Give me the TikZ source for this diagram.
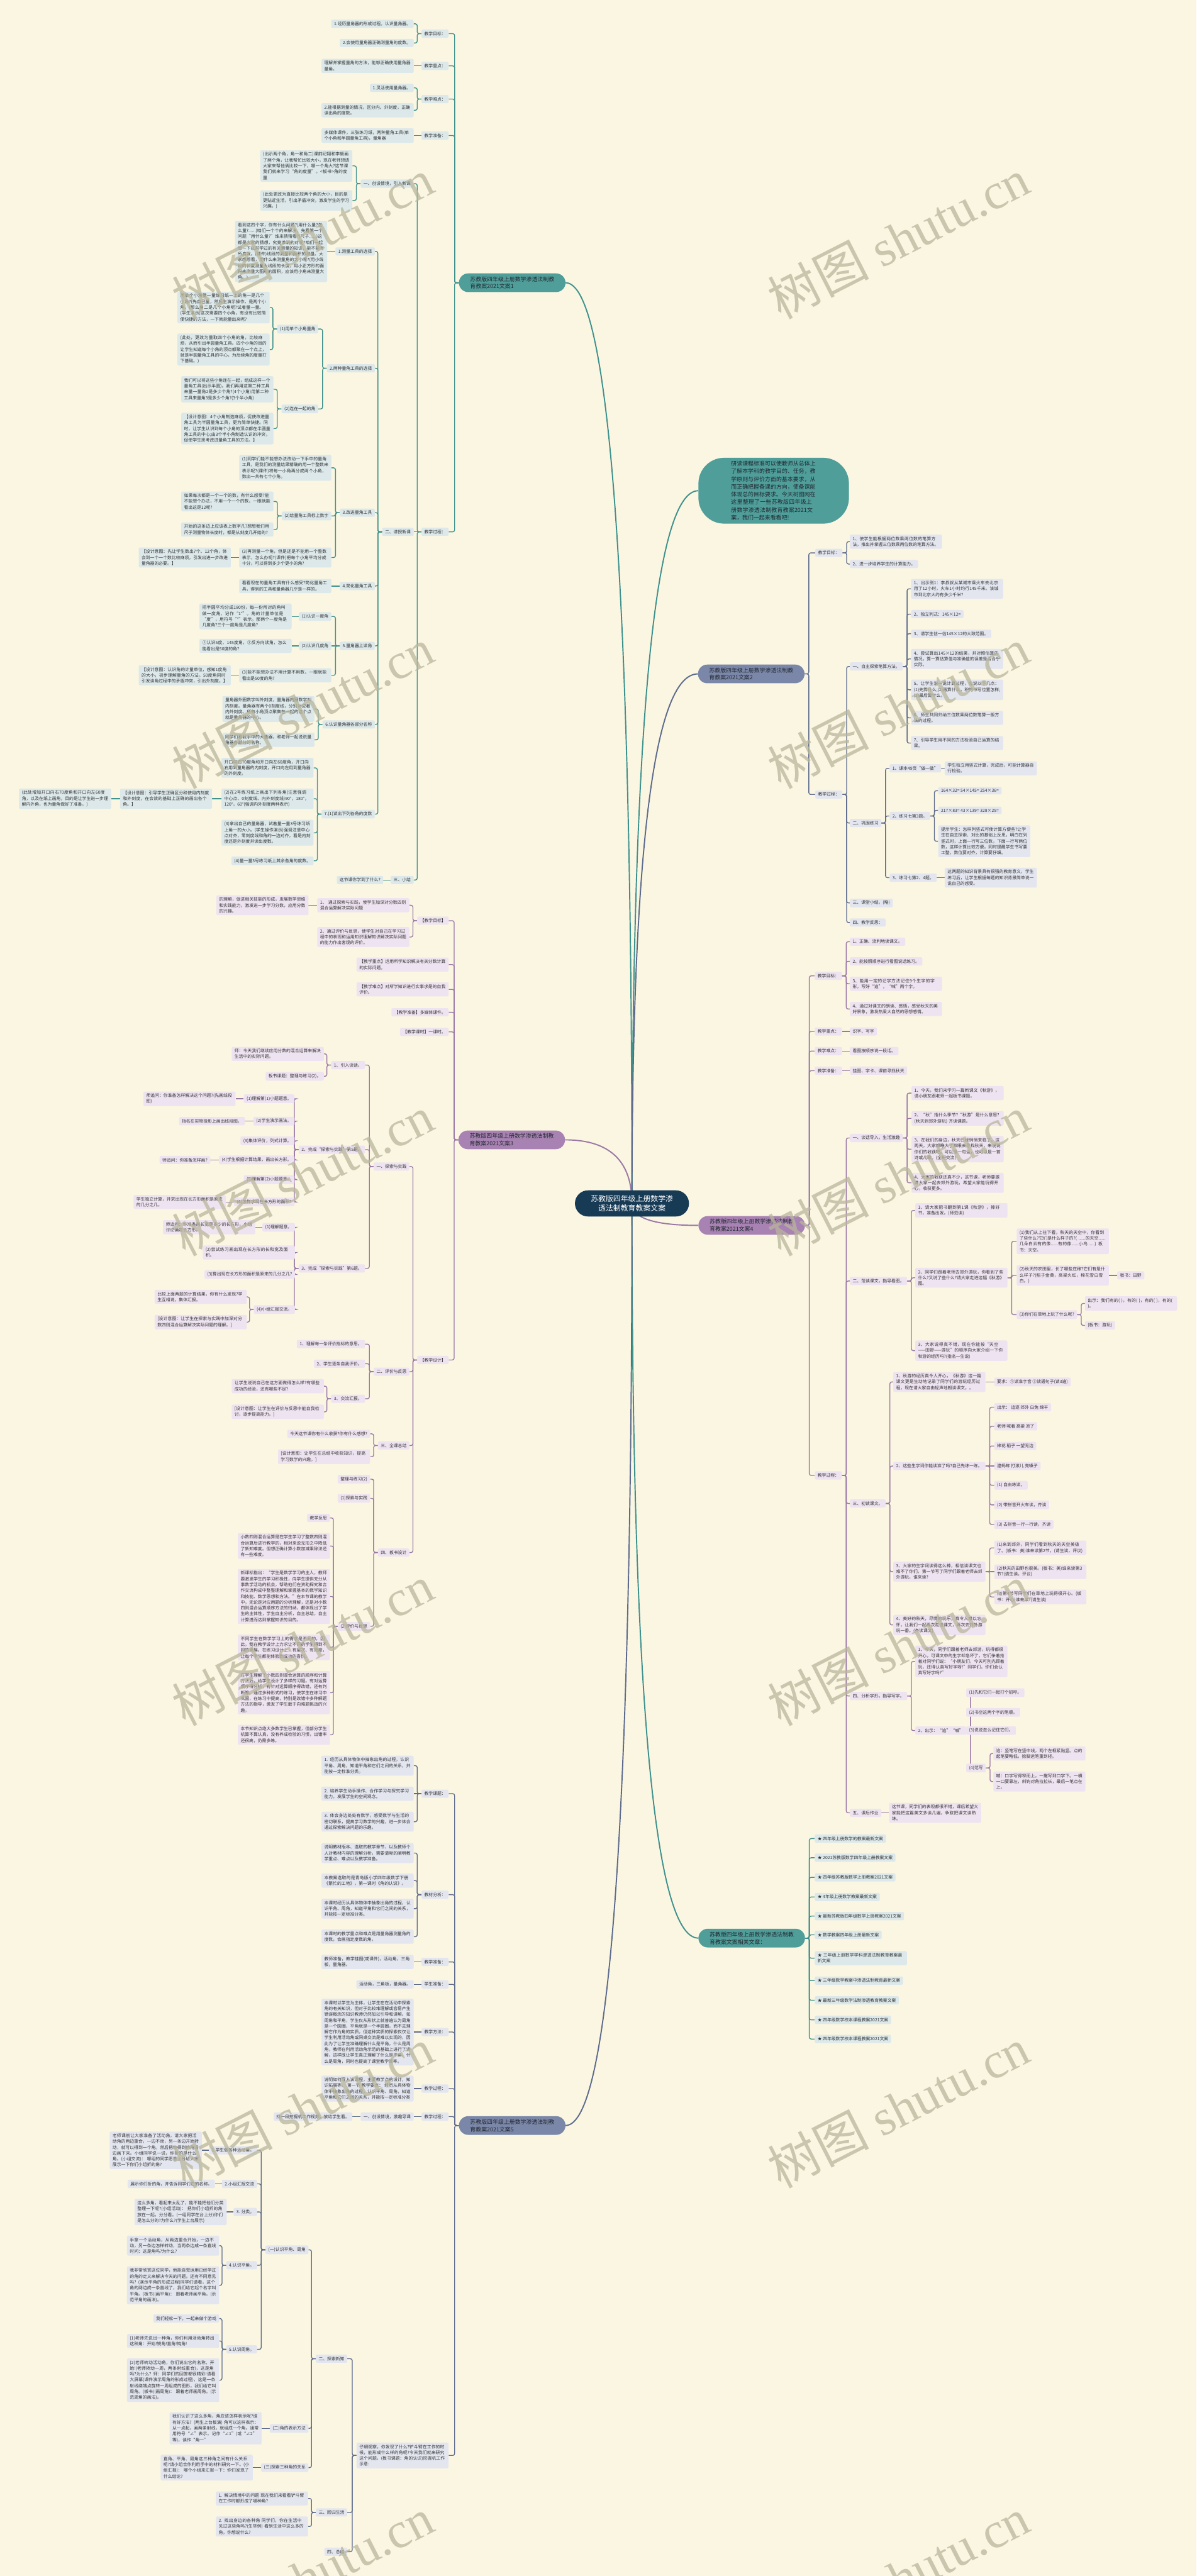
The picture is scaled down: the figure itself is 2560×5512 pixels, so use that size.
\documentclass[tikz,border=0pt]{standalone}
\usepackage{fontspec}
\setmainfont{Noto Sans CJK SC}
\newfontfamily\wmserif{Liberation Serif}
\usetikzlibrary{calc}
\XeTeXlinebreaklocale "zh"
\XeTeXlinebreakskip = 0pt plus 1pt
\definecolor{bgc}{HTML}{FAF6E2}
\definecolor{navy}{HTML}{173A55}
\definecolor{cT}{HTML}{4F9E9A}
\definecolor{cS}{HTML}{7B87A8}
\definecolor{cP}{HTML}{A882B2}
\definecolor{fT}{HTML}{DCE8EA}
\definecolor{fS}{HTML}{E3E6EF}
\definecolor{fP}{HTML}{EEE3F0}
\definecolor{lT}{HTML}{3F918D}
\definecolor{lS}{HTML}{5E6B8C}
\definecolor{lP}{HTML}{9A78A5}
\definecolor{txt}{HTML}{333333}
\definecolor{txt2}{HTML}{222831}
\definecolor{wmc}{HTML}{B9B69C}
\pgfdeclarelayer{back}\pgfdeclarelayer{bg}\pgfdeclarelayer{top}
\pgfsetlayers{back,bg,main,top}
\tikzset{
 nbase/.style={rounded corners=3pt, inner xsep=6pt, inner ysep=4.5pt, font=\fontsize{9.2}{12.5}\selectfont, text=txt, align=left},
 tl/.style={nbase, fill=fT},
 sl/.style={nbase, fill=fS},
 pl/.style={nbase, fill=fP},
 ww/.style={text width=185pt},
 ae/.style={anchor=east},
 aw/.style={anchor=west},
 br/.style={rounded corners=20pt, inner xsep=24pt, inner ysep=5pt, font=\fontsize{12}{16}\selectfont, text=txt2, align=left, minimum height=40pt},
 ln/.style={line width=1.8pt, rounded corners=4pt},
 wm/.style={rotate=27, text=wmc, opacity=0.75, font=\fontsize{108}{108}\selectfont, inner sep=0pt},
}
\newcommand\fanL[3]{\foreach \kid in {#3}{\draw[ln,#1] (#2.west) -- ++(-9,0) |- (\kid.east);}}
\newcommand\fanR[3]{\foreach \kid in {#3}{\draw[ln,#1] (#2.east) -- ++(9,0) |- (\kid.west);}}
\newcommand\stL[3]{\draw[ln,#1] (#2.west) -- (#3.east);}
\newcommand\stR[3]{\draw[ln,#1] (#2.east) -- (#3.west);}
\newcommand\ctrlk[2]{\path (ctr.center |- #2) coordinate (kk);
 \draw[#1, line width=2.6pt] (ctr.center) .. controls ($(ctr.center)!0.667!(kk)$) and ($(#2)!0.667!(kk)$) .. (#2);}
\begin{document}
\begin{tikzpicture}[x=1pt,y=-1pt]
\useasboundingbox (0,0) rectangle (2560,5512);
\begin{pgfonlayer}{back}\fill[bgc] (0,0) rectangle (2560,5512);\end{pgfonlayer}

% centre
\node[fill=navy, text=white, rounded corners=28pt, inner xsep=34pt, inner ysep=10pt, align=center, font=\fontsize{16}{21}\selectfont] (ctr) at (1352,2575) {苏教版四年级上册数学渗\\透法制教育教案文案};

% main branches
\node[br,fill=cT,ae] (b1) at (1210,605) {苏教版四年级上册数学渗透法制教\\育教案2021文案1};
\node[aw, fill=cT, rounded corners=55pt, inner xsep=70pt, inner ysep=7pt, text width=182pt, align=left, font=\fontsize{12}{16.5}\selectfont, text=txt2] (intro) at (1494,1050) {研读课程标准可以使教师从总体上了解本学科的教学目的、任务，教学原则与评价方面的基本要求，从而正确把握备课的方向，使备课能体现总的目标要求。今天树图网在这里整理了一些苏教版四年级上册数学渗透法制教育教案2021文案，我们一起来看看吧!};
\node[br,fill=cS,aw] (b2) at (1493,1442) {苏教版四年级上册数学渗透法制教\\育教案2021文案2};
\node[br,fill=cP,ae] (b3) at (1209,2439) {苏教版四年级上册数学渗透法制教\\育教案2021文案3};
\node[br,fill=cP,aw] (b4) at (1494,2622) {苏教版四年级上册数学渗透法制教\\育教案2021文案4};
\node[br,fill=cT,aw] (rel) at (1494,4147) {苏教版四年级上册数学渗透法制教\\育教案文案相关文章：};
\node[br,fill=cS,ae] (b5) at (1210,4548) {苏教版四年级上册数学渗透法制教\\育教案2021文案5};

% ---------- branch 1 ----------
\node[tl,ae] (a1) at (960,72) {教学目标：};
\node[tl,ae] (a2) at (960,141) {教学重点：};
\node[tl,ae] (a3) at (960,212) {教学难点：};
\node[tl,ae] (a4) at (960,290) {教学准备：};
\node[tl,ae] (a5) at (960,1138) {教学过程：};
\node[tl,ae] (a1x) at (885,51) {1.经历量角器的形成过程。认识量角器。};
\node[tl,ae] (a1y) at (885,92) {2.会使用量角器正确测量角的度数。};
\node[tl,ae,ww] (a2x) at (885,141) {理解并掌握量角的方法，能够正确使用量角器量角。};
\node[tl,ae] (a3x) at (885,188) {1.灵活使用量角器。};
\node[tl,ae,ww] (a3y) at (885,236) {2.能根据测量的情况，区分内、外刻度，正确读出角的度数。};
\node[tl,ae,ww] (a4x) at (885,290) {多媒体课件，三张练习纸，两种量角工具(单个小角和半圆量角工具)，量角器};
\node[tl,ae] (P1) at (885,393) {一、创设情境，引入新课};
\node[tl,ae] (P2) at (885,1138) {二、讲授新课};
\node[tl,ae] (P3) at (885,1883) {三、小结};
\node[tl,ae,ww] (p1a) at (754,355) {(出示两个角，角一和角二)课前纪翔和李毅画了两个角，让我帮忙比较大小，现在老师想请大家来帮他俩比较一下，哪一个角大?这节课我们就来学习“角的度量”。<板书>角的度量};
\node[tl,ae,ww] (p1b) at (754,429) {(此处更改为直接比较两个角的大小，目的是更贴近生活，引出矛盾冲突，激发学生的学习兴趣。)};
\node[tl,ae] (q1) at (802,538) {1.测量工具的选择};
\node[tl,ae] (q2) at (802,788) {2.两种量角工具的选择};
\node[tl,ae] (q3) at (802,1097) {3.改进量角工具};
\node[tl,ae] (q4) at (802,1254) {4.简化量角工具};
\node[tl,ae] (q5) at (802,1382) {5.量角器上读角};
\node[tl,ae] (q6) at (802,1550) {6.认识量角器各部分名称};
\node[tl,ae] (q7) at (802,1742) {7.(1)读出下列各角的度数};
\node[tl,ae,ww] (q1a) at (700,538) {看到这四个字，你有什么问题?(用什么量?怎么量?......)咱们一个个的来解决，先看第一个问题“用什么量?”谁来猜猜看?(尺子......)这都是大家的猜想，究竟谁说的对呢?咱们一起想一下以前学过的有关测量的知识，能不能有所启发。(课件)线段的测量和面积的测量。大家想想看，用什么来测量角的大小呢?(用小线段的长度测量大线段的长度，用小正方形的面积来测量大图形的面积，应该用小角来测量大角。)};
\node[tl,ae] (q2a) at (681,704) {(1)用单个小角量角};
\node[tl,ae] (q2b) at (681,875) {(2)连在一起的角};
\node[tl,ae,ww] (q2aa) at (577,658) {用单个小角量一量练习纸一上的角一是几个小角?(先自己量，然后生演示操作，是两个小角。)那么角二是几个小角呢?试着量一量。(学生演示)这次需要四个小角，有没有比较简便快捷的方法，一下就能量出来呢?};
\node[tl,ae,ww] (q2ab) at (577,748) {(此处，更改为量取四个小角的角，比较麻烦，从而引出半圆量角工具。四个小角的目的让学生知道每个小角的顶点都聚在一个点上，就是半圆量角工具的中心，为后续角的度量打下基础。)};
\node[tl,ae,ww] (q2ba) at (585,833) {我们可以将这些小角连在一起，组成这样一个量角工具(出示半圆)。我们再用这第二种工具来量一量角2是多少个角?(4个小角)用第二种工具来量角3是多少个角?(3个半小角)};
\node[tl,ae,ww] (q2bb) at (585,917) {【设计意图：4个小角制造麻烦，促使改进量角工具为半圆量角工具，更为简单快捷。同时，让学生认识到每个小角的顶点都在半圆量角工具的中心;由3个半小角制造认识的冲突，促使学生思考改进量角工具的方法。】};
\node[tl,ae,ww] (q3a) at (709,1001) {(1)同学们能不能想办法改动一下手中的量角工具，是我们的测量结果精确的用一个整数来表示呢?(课件)将每一小角再分成两个小角，数出一共有七个小角。};
\node[tl,ae] (q3b) at (709,1104) {(2)给量角工具标上数字};
\node[tl,ae,ww] (q3c) at (709,1193) {(3)再测量一个角，但是还是不能用一个整数表示，怎么办呢?(课件)把每个小角平均分成十分，可以得到多少个更小的角?};
\node[tl,ae,ww] (q3ba) at (585,1073) {如果每次都是一个一个的数，有什么感受?能不能想个办法，不用一个一个的数，一眼就能看出这是12呢?};
\node[tl,ae,ww] (q3bb) at (585,1133) {开始的这条边上应该表上数字几?想想我们用尺子测量物体长度时，都是从刻度几开始的?};
\node[tl,ae,ww] (q3ca) at (494,1193) {【设计意图：先让学生数出7个、12个角，体会到一个一个数比较麻烦，引发出进一步改进量角器的必要。】};
\node[tl,ae,ww] (q4a) at (709,1254) {看看现在的量角工具有什么感受?简化量角工具，得到的工具和量角器几乎是一样的。};
\node[tl,ae] (q5a) at (709,1319) {(1)认识一度角};
\node[tl,ae] (q5b) at (709,1382) {(2)认识几度角};
\node[tl,ae,ww] (q5c) at (709,1445) {(3)能不能想办法不用计算不用数，一眼就能看出是50度的角?};
\node[tl,ae,ww] (q5aa) at (624,1319) {把半圆平均分成180份，每一份所对的角叫做一度角，记作“1°”。角的计量单位是“度”，用符号“°”表示。那两个一度角是几度角?三个一度角是几度角?};
\node[tl,ae,ww] (q5ba) at (624,1382) {①认识5度，145度角。②反方向读角，怎么能看出是50度的角?};
\node[tl,ae,ww] (q5ca) at (494,1445) {【设计意图：认识角的计量单位，感知1度角的大小，初步理解量角的方法。50度角同时引发读角过程中的矛盾冲突，引出外刻度。】};
\node[tl,ae,ww] (q6a) at (673,1517) {量角器外圈数字叫外刻度，量角器内圈数字叫内刻度。量角器有两个0刻度线，分别对应着内外刻度。所有小角顶点聚集在一起的这个点就是量角器的中心。};
\node[tl,ae,ww] (q6b) at (673,1583) {同学们看我手中的大量器，和老师一起说说量角器各部分的名称。};
\node[tl,ae,ww] (q7a) at (671,1643) {开口向右70度角和开口向左60度角，开口向右用到量角器的内刻度，开口向左用到量角器的外刻度。};
\node[tl,ae,ww] (q7b) at (671,1709) {(2)在2号练习纸上画出下列各角(注意强调中心点、0刻度线、内外刻度线)90°，180°，120°，60°(强调内外刻度两种表示)};
\node[tl,ae,ww] (q7c) at (671,1782) {(3)拿出自己的量角器，试着量一量3号练习纸上角一的大小。(学生操作演示)强调注意中心点对齐，零刻度线和角的一边对齐，看是内刻度还是外刻度并读出度数。};
\node[tl,ae] (q7d) at (671,1842) {(4)量一量3号练习纸上其余各角的度数。};
\node[tl,ae,ww] (q7ba) at (454,1709) {【设计意图：引导学生正确区分和使用内刻度和外刻度，在会读的基础上正确的画出各个角。】};
\node[tl,ae,ww] (q7bb) at (238,1709) {(此处增加开口向右70度角和开口向左60度角，以及在纸上画角，目的是让学生进一步理解内外角，也为量角做好了准备。)};
\node[tl,ae] (p3a) at (820,1883) {这节课你学到了什么?};

% ---------- branch 2 ----------
\node[sl,aw] (Br1) at (1744,1183) {教学目标：};
\node[sl,aw] (Br2) at (1744,1700) {教学过程：};
\node[sl,aw,ww] (Br1a) at (1818,1159) {1、使学生能根据两位数乘两位数的笔算方法，推出并掌握三位数乘两位数的笔算方法。};
\node[sl,aw] (Br1b) at (1818,1207) {2、进一步培养学生的计算能力。};
\node[sl,aw] (Bk1) at (1818,1426) {一、自主探索笔算方法。};
\node[sl,aw] (Bk2) at (1818,1761) {二、巩固练习};
\node[sl,aw] (Bk3) at (1818,1932) {三、课堂小结。(略)};
\node[sl,aw] (Bk4) at (1818,1974) {四、教学反思：};
\node[sl,aw,ww] (Bk1a) at (1949,1260) {1、出示例1：李叔叔从某城市乘火车去北京用了12小时，火车1小时约行145千米。该城市到北京大约有多少千米?};
\node[sl,aw] (Bk1b) at (1949,1314) {2、独立列式：145×12=};
\node[sl,aw] (Bk1c) at (1949,1356) {3、请学生估一估145×12的大致范围。};
\node[sl,aw,ww] (Bk1d) at (1949,1410) {4、尝试算出145×12的结果，并对照估算的情况，算一算估算值与准确值的误差是否合乎实际。};
\node[sl,aw,ww] (Bk1e) at (1949,1476) {5、让学生说一说计算过程，应说以下几点：(1)先算什么;(2)再算什么，积的书写位置怎样;(3)最后算什么。};
\node[sl,aw,ww] (Bk1f) at (1949,1536) {6、师生共同归纳三位数乘两位数笔算一般方法的过程。};
\node[sl,aw,ww] (Bk1g) at (1949,1590) {7、引导学生用不同的方法检验自己运算的结果。};
\node[sl,aw] (Bm1) at (1903,1644) {1、课本49页“做一做”};
\node[sl,aw] (Bm2) at (1903,1746) {2、练习七第3题。};
\node[sl,aw] (Bm3) at (1903,1878) {3、练习七第2、4题。};
\node[sl,aw,ww] (Bm1a) at (2021,1644) {学生独立用竖式计算，完成后，可能计算器自行检验。};
\node[sl,aw] (Bm2a) at (2007,1692) {164×32= 54×145= 254×36=};
\node[sl,aw] (Bm2b) at (2007,1734) {217×83= 43×139= 328×25=};
\node[sl,aw,ww] (Bm2c) at (2007,1800) {提示学生：怎样列竖式可使计算方便些?让学生在自主探索、对比的基础上反思，明白在列竖式时，上面一行写三位数，下面一行写两位数，这样计算比较方便。同时提醒学生书写要工整，数位要对齐，计算要仔细。};
\node[sl,aw,ww] (Bm3a) at (2021,1878) {这两题的知识背景具有很强的教育意义，学生练习后，让学生根据每题的知识背景简单说一说自己的感受。};

% ---------- branch 3 ----------
\node[pl,ae] (c1) at (960,1970) {【教学目标】};
\node[pl,ae,ww] (c2) at (960,2064) {【教学重点】运用所学知识解决有关分数计算的实际问题。};
\node[pl,ae,ww] (c3) at (960,2117) {【教学难点】对所学知识进行实事求是的自我评价。};
\node[pl,ae] (c4) at (960,2166) {【教学准备】多媒体课件。};
\node[pl,ae] (c5) at (960,2208) {【教学课时】一课时。};
\node[pl,ae] (c6) at (960,2910) {【教学设计】};
\node[pl,ae,ww] (t1) at (876,1937) {1、 通过探索与实践，使学生加深对分数四则混合运算解决实际问题};
\node[pl,ae,ww] (t2) at (876,2005) {2、通过评价与反思，使学生对自己在学习过程中的表现和运用知识理解知识解决实际问题的能力作出客观的评价。};
\node[pl,ae,ww] (t1a) at (660,1937) {的理解，促进相关技能的形成，发展数学思维和实践能力，激发进一步学习分数，应用分数的兴趣。};
\node[pl,ae] (d1) at (876,2496) {一、探索与实践};
\node[pl,ae] (d2) at (876,2935) {二、评价与反思};
\node[pl,ae] (d3) at (876,3093) {三、全课总结};
\node[pl,ae] (d4) at (876,3322) {四、板书设计};
\node[pl,ae] (e1) at (781,2279) {1、引入谈话。};
\node[pl,ae] (e2) at (781,2460) {2、完成“探索与实践”第5题。};
\node[pl,ae] (e3) at (781,2714) {3、完成“探索与实践”第6题。};
\node[pl,ae,ww] (e1a) at (693,2255) {师：今天我们继续应用分数的混合运算来解决生活中的实际问题。};
\node[pl,ae] (e1b) at (693,2303) {板书课题：整理与练习(2)。};
\node[pl,ae] (f1) at (630,2351) {(1)理解第(1)小题题意。};
\node[pl,ae] (f2) at (630,2399) {(2)学生演示画法。};
\node[pl,ae] (f3) at (630,2441) {(3)集体评价，列式计算。};
\node[pl,ae] (f4) at (630,2482) {(4)学生根据计算结果，画出长方形。};
\node[pl,ae] (f5) at (630,2524) {(5)理解第(2)小题题意。};
\node[pl,ae] (f6) at (630,2572) {(6)怎样求现在长方形的面积?};
\node[pl,ae,ww] (f1a) at (504,2351) {师追问：你准备怎样解决这个问题?(先画线段图)};
\node[pl,ae] (f2a) at (524,2399) {指名在实物投影上画出线段图。};
\node[pl,ae] (f4a) at (450,2482) {师追问：你准备怎样画?};
\node[pl,ae,ww] (f6a) at (483,2572) {学生独立计算，并求出现在长方形面积是原来的几分之几。};
\node[pl,ae] (g1) at (631,2626) {(1)理解题意。};
\node[pl,ae,ww] (g2) at (631,2680) {(2)尝试练习画出现在长方形的长和宽及面积。};
\node[pl,ae] (g3) at (631,2727) {(3)算出现在长方形的面积是原来的几分之几?};
\node[pl,ae] (g4) at (631,2802) {(4)小组汇报交流。};
\node[pl,ae,ww] (g1a) at (546,2626) {师追问：你准备画长宽是多少的长方形，小组讨论确定长方形。};
\node[pl,ae,ww] (g4a) at (528,2775) {比较上面两题的计算结果，你有什么发现?学生互相说，集体汇报。};
\node[pl,ae,ww] (g4b) at (528,2829) {[设计意图：让学生在探索与实践中加深对分数四则混合运算解决实际问题的理解。]};
\node[pl,ae] (h1) at (781,2876) {1、理解每一条评价指标的意思。};
\node[pl,ae] (h2) at (781,2918) {2、学生逐条自我评价。};
\node[pl,ae] (h3) at (781,2993) {3、交流汇报。};
\node[pl,ae,ww] (h3a) at (693,2966) {让学生说说自己在这方面做得怎么样?有哪些成功的经验，还有哪些不足?};
\node[pl,ae,ww] (h3b) at (693,3021) {[设计意图：让学生在评价与反思中能自我检讨，逐步提高能力。]};
\node[pl,ae] (i1) at (792,3068) {今天这节课你有什么收获?你有什么感想?};
\node[pl,ae,ww] (i2) at (792,3117) {[设计意图：让学生在总结中收获知识，提高学习数学的兴趣。]};
\node[pl,ae] (j1) at (792,3165) {整理与练习(2)};
\node[pl,ae] (j2) at (792,3206) {(1)探索与实践};
\node[pl,ae] (j3) at (792,3480) {(2)评价与反思};
\node[pl,ae] (k1) at (706,3248) {教学反思};
\node[pl,ae,ww] (k2) at (706,3308) {小数四则混合运算是在学生学习了整数四则混合运算后进行教学的，相对来说无形之中降低了新知难度。但想正确计算小数加减乘除法还有一些难度。};
\node[pl,ae,ww] (k3) at (706,3416) {新课标指出：“学生是数学学习的主人，教师要激发学生的学习积极性，向学生提供充分从事数学活动的机会，帮助他们在资助探究和合作交流构成中整整理解和掌握基本的数学知识和技能、数学思想和方法。”在本节课的教学中，无论是对应用题的分析理解，还是对小数四则混合运算顺序方法的归纳，都体现出了学生的主体性，学生自主分析，自主总结，自主计算进而达到掌握知识的目的。};
\node[pl,ae,ww] (k4) at (706,3525) {不同学生在数学学习上的需求是不同的，因此，我在教学设计上力求让不同的学生得到不同的发展。在练习设计上，有层次、有效度，让每个学生都能体验到成功的喜悦。};
\node[pl,ae,ww] (k5) at (706,3622) {在学生理解了小数四则混合运算的顺序和计算方法后，给学生设计了多样的习题。有对运算顺序得分析，有针对运算顺序得改错，还有判断等。通过多种形式的练习，使学生在练习中巩固，在练习中提高，特别是改错中多种解题方法的指导，激发了学生敢于向难题挑战的兴趣。};
\node[pl,ae,ww] (k6) at (706,3712) {本节知识点绝大多数学生已掌握，但部分学生机算不算认真，没有养成检验的习惯，出错率还很高，仍需多练。};

% ---------- branch 4 ----------
\node[pl,aw] (Dr1) at (1743,2088) {教学目标：};
\node[pl,aw] (Dr2) at (1743,2207) {教学重点：};
\node[pl,aw] (Dr3) at (1743,2249) {教学难点：};
\node[pl,aw] (Dr4) at (1743,2291) {教学准备：};
\node[pl,aw] (Dr5) at (1743,3157) {教学过程：};
\node[pl,aw] (Dt1) at (1818,2015) {1、正确、流利地读课文。};
\node[pl,aw] (Dt2) at (1818,2057) {2、能按照顺序进行看图说话练习。};
\node[pl,aw,ww] (Dt3) at (1818,2105) {3、能用一定的记字方法记住9个生字的字形，写好“追”，“喊”两个字。};
\node[pl,aw,ww] (Dt4) at (1818,2159) {4、通过对课文的朗读、感悟，感受秋天的美好景象，激发热爱大自然的思想感情。};
\node[pl,aw] (Dr2a) at (1818,2207) {识字、写字};
\node[pl,aw] (Dr3a) at (1818,2249) {看图按顺序说一段话。};
\node[pl,aw] (Dr4a) at (1818,2291) {挂图、字卡、课前寻找秋天};
\node[pl,aw] (Dw1) at (1818,2435) {一、谈话导入，生活激趣};
\node[pl,aw] (Dw2) at (1818,2741) {二、范读课文，指导看图。};
\node[pl,aw] (Dw3) at (1818,3217) {三、初读课文。};
\node[pl,aw] (Dw4) at (1818,3629) {四、分析字形，指导写字。};
\node[pl,aw] (Dw5) at (1818,3879) {五、课后作业};
\node[pl,aw,ww] (Dw1a) at (1950,2339) {1、今天，我们来学习一篇新课文《秋游》，请小朋友跟老师一起板书课题。};
\node[pl,aw,ww] (Dw1b) at (1950,2393) {2、“秋”指什么季节?“秋游”是什么意思?(秋天到郊外游玩) 齐读课题。};
\node[pl,aw,ww] (Dw1c) at (1950,2459) {3、在我们的身边，秋天已经悄悄来临了。这两天，大家都睁大了双眼去寻找秋天，来说说你们的收获吧。可以是一句话，也可以是一首诗或儿歌。(全班交流)};
\node[pl,aw,ww] (Dw1d) at (1950,2531) {4、大家的收获还真不少，这节课，老师要邀请大家一起去郊外游玩，希望大家能玩得开心，收获更多。};
\node[pl,aw,ww] (Dx1) at (1958,2590) {1、请大家把书翻到第1课《秋游》，捧好书，准备出发。(师范读)};
\node[pl,aw,ww] (Dx2) at (1958,2734) {2、同学们跟着老师去郊外游玩，你看到了些什么?又说了些什么?请大家走进这幅《秋游》图。};
\node[pl,aw,ww] (Dx3) at (1958,2890) {3、大家说得真不错，现在你能按“天空——田野——游玩”的顺序向大家介绍一下你秋游的经历吗?(指名一生说)};
\node[pl,aw,ww] (Dy1) at (2175,2656) {(1)我们从上往下看，秋天的天空中，你看到了些什么?它们是什么样子的?( ......的天空......几朵白云有的像......有的像......小鸟......) 板书：天空。};
\node[pl,aw,ww] (Dy2) at (2175,2729) {(2)秋天的农田里，长了哪些庄稼?它们有是什么样子?(稻子金黄，高粱火红，棉花雪白雪白。)};
\node[pl,aw] (Dy3) at (2175,2813) {(3)你们在草地上玩了什么呢?};
\node[pl,aw] (Dy2a) at (2390,2729) {板书：田野};
\node[pl,aw,ww] (Dy3a) at (2321,2789) {出示：我们有的( )，有的( )，有的( )，有的( )。};
\node[pl,aw] (Dy3b) at (2321,2836) {(板书：游玩)};
\node[pl,aw,ww] (Dz1) at (1911,2957) {1、秋游的经历真令人开心，《秋游》这一篇课文更是生动地记录了同学们的游玩经历过程，现在请大家自由轻声地朗读课文。。};
\node[pl,aw,ww] (Dz2) at (1911,3137) {2、这些生字词你能读准了吗?自己先练一练。};
\node[pl,aw,ww] (Dz3) at (1911,3363) {3、大家的生字词读得这么棒，相信读课文也难不了你们。第一节写了同学们跟着老师去郊外游玩，谁来读?};
\node[pl,aw,ww] (Dz4) at (1911,3477) {4、美好的秋天，尽情的玩乐，真令人难以忘怀，让我们一起再次走进课文，再次去郊外游玩一番。(齐读课文)};
\node[pl,aw] (Dz1a) at (2127,2957) {要求：①读准字音 ②读通句子(读3遍)};
\node[pl,aw] (Dz2a) at (2127,3011) {出示： 追逐 郊外 白兔 绵羊};
\node[pl,aw] (Dz2b) at (2127,3052) {老师 喊着 高粱 凉了};
\node[pl,aw] (Dz2c) at (2127,3094) {棉花 稻子 一望无边};
\node[pl,aw] (Dz2d) at (2127,3137) {逮蚂蚱 打滚儿 亮嗓子};
\node[pl,aw] (Dz2e) at (2127,3178) {(1) 自由练读。};
\node[pl,aw] (Dz2f) at (2127,3220) {(2) 带拼音开火车读，齐读};
\node[pl,aw] (Dz2g) at (2127,3262) {(3) 去拼音一行一行读，齐读};
\node[pl,aw,ww] (Dz3a) at (2127,3312) {(1)来到郊外，同学们看到秋天的天空美极了。(板书：美)谁来读第2节。(请生读，评议)};
\node[pl,aw,ww] (Dz3b) at (2127,3363) {(2)秋天的田野也很美。(板书：美)谁来读第3节?(请生读，评议)};
\node[pl,aw,ww] (Dz3c) at (2127,3417) {(3)第4节写同学们在草地上玩得很开心。(板书：开心)谁来读?(请生读)};
\node[pl,aw,ww] (Da1) at (1958,3555) {1、今天，同学们跟着老师去郊游，玩得都很开心，可课文中的生字却急坏了，它们争着抢着对同学们说：“小朋友们，今天可别光顾着玩，还得认真写好字呀!”同学们，你们会认真写好字吗?”};
\node[pl,aw] (Da2) at (1958,3703) {2、出示：“追”“喊”};
\node[pl,aw] (Da2a) at (2067,3622) {(1)先和它们一起打个招呼。};
\node[pl,aw] (Da2b) at (2067,3664) {(2)书空这两个字的笔顺。};
\node[pl,aw] (Da2c) at (2067,3703) {(3)说说怎么记住它们。};
\node[pl,aw] (Dab) at (2067,3783) {(4)范写};
\node[pl,aw,ww] (Dab1) at (2125,3752) {追：竖笔写在竖中线，两个左框紧贴竖。点的起笔要略低，捺脚运笔重到轻。};
\node[pl,aw,ww] (Dab2) at (2125,3812) {喊：口字写得窄而上，一撇写到口字下。一横一口要靠左，斜钩对角拉拉长，最后一笔点在上。};
\node[pl,aw,ww] (Dw5a) at (1902,3879) {这节课，同学们的表现都很不错，课后希望大家能把这篇美文多读几遍，争取把课文读熟练。};

% ---------- related ----------
\node[tl,aw] (F1) at (1743,3934) {★ 四年级上册数学的教案最新文案};
\node[tl,aw] (F2) at (1743,3975) {★ 2021苏教版数学四年级上册教案文案};
\node[tl,aw] (F3) at (1743,4017) {★ 四年级苏教版数学上册教案2021文案};
\node[tl,aw] (F4) at (1743,4059) {★ 4年级上册数学教案最新文案};
\node[tl,aw] (F5) at (1743,4100) {★ 最新苏教版四年级数学上册教案2021文案};
\node[tl,aw] (F6) at (1743,4140) {★ 数学教案四年级上册最新文案};
\node[tl,aw,ww] (F7) at (1743,4190) {★ 三年级上册数学学科渗透法制教育教案最新文案};
\node[tl,aw] (F8) at (1743,4238) {★ 三年级数学教案中渗透法制教育最新文案};
\node[tl,aw] (F9) at (1743,4280) {★ 最新三年级数学法制渗透教育教案文案};
\node[tl,aw] (F10) at (1743,4322) {★ 四年级数学校本课程教案2021文案};
\node[tl,aw] (F11) at (1743,4363) {★ 四年级数学校本课程教案2021文案};

% ---------- branch 5 ----------
\node[sl,ae] (m1) at (960,3838) {教学课题：};
\node[sl,ae] (m2) at (960,4054) {教材分析：};
\node[sl,ae] (m3) at (960,4198) {教学准备：};
\node[sl,ae] (m4) at (960,4246) {学生准备：};
\node[sl,ae] (m5) at (960,4348) {教学方法：};
\node[sl,ae] (m6) at (960,4469) {教学过程：};
\node[sl,ae] (m7) at (960,4529) {教学过程：};
\node[sl,ae,ww] (m8) at (960,5254) {仔细观察，你发现了什么?铲斗臂在工作的时候，能形成什么样的角呢?今天我们就来研究这个问题。(板书课题：角的认识)挖掘机工作示意:};
\node[sl,ae,ww] (m1a) at (885,3778) {1. 经历从具体物体中抽象出角的过程，认识平角、周角，知道平角和它们之间的关系，并能按一定标准分类。};
\node[sl,ae,ww] (m1b) at (885,3838) {2. 培养学生动手操作、合作学习与探究学习能力。发展学生的空间观念。};
\node[sl,ae,ww] (m1c) at (885,3898) {3. 体会身边处处有数学，感受数学与生活的密切联系，提高学习数学的兴趣，进一步体会通过探索解决问题的乐趣。};
\node[sl,ae,ww] (m2a) at (885,3965) {说明教材版本、选取的教学章节、以及教师个人对教材内容的理解分析，需要清晰的阐明教学重点、难点以及教学准备。};
\node[sl,ae,ww] (m2b) at (885,4024) {本教案选取的是青岛版小学四年级数学下册《繁忙的工地》，第一课时《角的认识》。};
\node[sl,ae,ww] (m2c) at (885,4084) {本课时经历从具体物体中抽象出角的过程，认识平角、周角，知道平角和它们之间的关系，并能按一定标准分类。};
\node[sl,ae,ww] (m2d) at (885,4144) {本课时的教学重点和难点是用量角器测量角的度数，会画指定度数的角。};
\node[sl,ae,ww] (m3a) at (885,4198) {教师准备，教学挂图(或课件)，活动角，三角板，量角器。};
\node[sl,ae] (m4a) at (885,4246) {活动角，三角板，量角器。};
\node[sl,ae,ww] (m5a) at (885,4348) {本课时以学生为主体，让学生在在活动中探索角的有关知识，但对于比较难理解或容易产生错误概念的知识教师仍然加以引导和讲解。如周角和平角，学生仅从形状上就普遍认为周角是一个圆圈，平角就是一个半圆圈，而不去理解它作为角的实质，但这种实质的探索仅仅让学生利用活动角或同桌交流是难以实现的，因此为了让学生准确理解什么是平角，什么是周角，教师在利用活动角示范的基础上进行了讲解，这样既让学生真正理解了什么是平角、什么是周角，同时也提高了课堂教学效率。};
\node[sl,ae,ww] (m6a) at (885,4469) {说明如何导入该课程，主要教学点的设计，知识拓展等。 第一节 教学要点： 经历从具体物体中抽象出角的过程，认识平角、周角，知道平角和它们之间的关系，并能按一定标准分类};
\node[sl,ae] (n1) at (885,4529) {一、创设情境，激趣导课};
\node[sl,ae] (n1a) at (754,4529) {找一段挖掘机工作视频，放给学生看。};
\node[sl,ae] (s1) at (743,5047) {二、探索新知};
\node[sl,ae] (s2) at (743,5376) {三、回归生活};
\node[sl,ae] (s3) at (743,5460) {四、总结};
\node[sl,ae] (u1) at (660,4814) {(一)认识平角、周角};
\node[sl,ae] (u2) at (660,5196) {(二)角的表示方法};
\node[sl,ae] (u3) at (660,5280) {(三)探索三种角的关系};
\node[sl,ae] (v1) at (550,4601) {1.学生做各种活动角。};
\node[sl,ae] (v2) at (550,4673) {2.小组汇报交流};
\node[sl,ae] (v3) at (550,4733) {3. 分类。};
\node[sl,ae] (v4) at (550,4847) {4.认识平角。};
\node[sl,ae] (v5) at (550,5027) {5.认识周角。};
\node[sl,ae,ww] (v1a) at (432,4601) {老师课前让大家准备了活动角，请大家把活动角的两边重合，一边不动，另一条边开始转动，就可以得到一个角。然后把你得到的角沿边画下来。小组同学说一说，你折的是什么角。(小组交流)： 哪组的同学愿意上台给大家展示一下你们小组折的角?};
\node[sl,ae] (v2a) at (460,4673) {展示你们折的角，并告诉同学们它的名称。};
\node[sl,ae,ww] (v3a) at (485,4733) {这么多角，看起来太乱了，能不能把他们分类整理一下呢?(小组活动)： 把你们小组折的角放在一起，分分看。(一组同学在台上分)你们是怎么分的?为什么?(学生上台展示)};
\node[sl,ae,ww] (v4a) at (469,4805) {手拿一个活动角，从两边重合开始，一边不动，另一条边怎样转动，当两条边成一条直线时问：这是角吗?为什么?};
\node[sl,ae,ww] (v4b) at (469,4890) {我非常欣赏这位同学，他能自觉运用已经学过的角的定义来解决今天的问题。还有不同意见吗? (演示平角的形成过程)同学们请看，这个角的两边成一条直线了，我们给它起个名字叫平角。(板书)(画平角)： 跟着老师画平角。(示范平角的画法)。};
\node[sl,ae] (v5a) at (469,4961) {我们轻松一下，一起来做个游戏};
\node[sl,ae,ww] (v5b) at (469,5009) {(1)老师先说出一种角，你们利用活动角转出这种角：开始!锐角!直角!钝角!};
\node[sl,ae,ww] (v5c) at (469,5093) {(2)老师转动活动角，你们说出它的名称。开始!(老师转动一周，两条射线重合)，这是角吗?为什么? 师：同学们的回答都很精彩!请看大屏幕(课件演示周角的形成过程)，这是一条射线绕端点旋转一周组成的图形，我们给它叫周角。(板书)(画周角)： 跟着老师画周角。(示范周角的画法)。};
\node[sl,ae,ww] (u2a) at (560,5196) {我们认识了这么多角，角应该怎样表示呢?谁有好方法? (两生上台板演) 角可以这样表示：从一点起，画两条射线，就组成一个角。通常用符号“∠”表示。记作“∠1”(或“∠2”等)，读作“角一”};
\node[sl,ae,ww] (u3a) at (541,5280) {直角、平角、周角这三种角之间有什么关系呢?请小组合作利用手中的材料研究一下。(小组汇报)： 哪个小组来汇报一下：你们发现了什么结论?};
\node[sl,ae,ww] (s2a) at (659,5346) {1. 解决情境中的问题 现在我们来看看铲斗臂在工作时都形成了哪种角?};
\node[sl,ae,ww] (s2b) at (659,5406) {2. 找出身边的各种角 同学们，你在生活中见过这些角吗?(生举例) 看到生活中这么多的角，你想说什么?};

% ---------- connectors ----------
\begin{pgfonlayer}{bg}
\ctrlk{lT}{b1.east}
\ctrlk{lT}{intro.west}
\ctrlk{lS}{b2.west}
\ctrlk{lP}{b3.east}
\ctrlk{lP}{b4.west}
\ctrlk{lT}{rel.west}
\ctrlk{lS}{b5.east}
% branch 1
\fanL{lT}{b1}{a1,a2,a3,a4,a5}
\fanL{lT}{a1}{a1x,a1y}
\stL{lT}{a2}{a2x}
\fanL{lT}{a3}{a3x,a3y}
\stL{lT}{a4}{a4x}
\fanL{lT}{a5}{P1,P3}
\stL{lT}{a5}{P2}
\fanL{lT}{P1}{p1a,p1b}
\fanL{lT}{P2}{q1,q2,q3,q4,q5,q6,q7}
\stL{lT}{q1}{q1a}
\fanL{lT}{q2}{q2a,q2b}
\fanL{lT}{q2a}{q2aa,q2ab}
\fanL{lT}{q2b}{q2ba,q2bb}
\fanL{lT}{q3}{q3a,q3b,q3c}
\fanL{lT}{q3b}{q3ba,q3bb}
\stL{lT}{q3c}{q3ca}
\stL{lT}{q4}{q4a}
\fanL{lT}{q5}{q5a,q5c}
\stL{lT}{q5}{q5b}
\stL{lT}{q5a}{q5aa}
\stL{lT}{q5b}{q5ba}
\stL{lT}{q5c}{q5ca}
\fanL{lT}{q6}{q6a,q6b}
\fanL{lT}{q7}{q7a,q7b,q7c,q7d}
\stL{lT}{q7b}{q7ba}
\stL{lT}{q7ba}{q7bb}
\stL{lT}{P3}{p3a}
% branch 2
\fanR{lS}{b2}{Br1,Br2}
\fanR{lS}{Br1}{Br1a,Br1b}
\fanR{lS}{Br2}{Bk1,Bk2,Bk3,Bk4}
\fanR{lS}{Bk1}{Bk1a,Bk1b,Bk1c,Bk1d,Bk1e,Bk1f,Bk1g}
\fanR{lS}{Bk2}{Bm1,Bm2,Bm3}
\stR{lS}{Bm1}{Bm1a}
\fanR{lS}{Bm2}{Bm2a,Bm2b,Bm2c}
\stR{lS}{Bm3}{Bm3a}
% branch 3
\fanL{lP}{b3}{c1,c2,c3,c4,c5,c6}
\fanL{lP}{c1}{t1,t2}
\stL{lP}{t1}{t1a}
\fanL{lP}{c6}{d1,d2,d3,d4}
\fanL{lP}{d1}{e1,e2,e3}
\fanL{lP}{e1}{e1a,e1b}
\fanL{lP}{e2}{f1,f2,f3,f4,f5,f6}
\stL{lP}{f1}{f1a}
\stL{lP}{f2}{f2a}
\stL{lP}{f4}{f4a}
\stL{lP}{f6}{f6a}
\fanL{lP}{e3}{g1,g2,g3,g4}
\stL{lP}{g1}{g1a}
\fanL{lP}{g4}{g4a,g4b}
\fanL{lP}{d2}{h1,h2,h3}
\fanL{lP}{h3}{h3a,h3b}
\fanL{lP}{d3}{i1,i2}
\fanL{lP}{d4}{j1,j2,j3}
\fanL{lP}{j3}{k1,k2,k3,k4,k5,k6}
% branch 4
\fanR{lP}{b4}{Dr1,Dr2,Dr3,Dr4,Dr5}
\fanR{lP}{Dr1}{Dt1,Dt2,Dt3,Dt4}
\stR{lP}{Dr2}{Dr2a}
\stR{lP}{Dr3}{Dr3a}
\stR{lP}{Dr4}{Dr4a}
\fanR{lP}{Dr5}{Dw1,Dw2,Dw3,Dw4,Dw5}
\fanR{lP}{Dw1}{Dw1a,Dw1b,Dw1c,Dw1d}
\fanR{lP}{Dw2}{Dx1,Dx2,Dx3}
\fanR{lP}{Dx2}{Dy1,Dy2,Dy3}
\stR{lP}{Dy2}{Dy2a}
\fanR{lP}{Dy3}{Dy3a,Dy3b}
\fanR{lP}{Dw3}{Dz1,Dz2,Dz3,Dz4}
\stR{lP}{Dz1}{Dz1a}
\fanR{lP}{Dz2}{Dz2a,Dz2b,Dz2c,Dz2e,Dz2f,Dz2g}
\stR{lP}{Dz2}{Dz2d}
\fanR{lP}{Dz3}{Dz3a,Dz3c}
\stR{lP}{Dz3}{Dz3b}
\fanR{lP}{Dw4}{Da1,Da2}
\fanR{lP}{Da2}{Da2a,Da2b,Dab}
\stR{lP}{Da2}{Da2c}
\fanR{lP}{Dab}{Dab1,Dab2}
\stR{lP}{Dw5}{Dw5a}
% related
\fanR{lT}{rel}{F1,F2,F3,F4,F5,F6,F7,F8,F9,F10,F11}
% branch 5
\fanL{lS}{b5}{m1,m2,m3,m4,m5,m6,m7,m8}
\fanL{lS}{m1}{m1a,m1c}
\stL{lS}{m1}{m1b}
\fanL{lS}{m2}{m2a,m2b,m2c,m2d}
\stL{lS}{m3}{m3a}
\stL{lS}{m4}{m4a}
\stL{lS}{m5}{m5a}
\stL{lS}{m6}{m6a}
\stL{lS}{m7}{n1}
\stL{lS}{n1}{n1a}
\fanL{lS}{m8}{s1,s2,s3}
\fanL{lS}{s1}{u1,u2,u3}
\fanL{lS}{u1}{v1,v2,v3,v4,v5}
\stL{lS}{v1}{v1a}
\stL{lS}{v2}{v2a}
\stL{lS}{v3}{v3a}
\fanL{lS}{v4}{v4a,v4b}
\fanL{lS}{v5}{v5a,v5b,v5c}
\stL{lS}{u2}{u2a}
\stL{lS}{u3}{u3a}
\fanL{lS}{s2}{s2a,s2b}
\end{pgfonlayer}

% watermarks
\begin{pgfonlayer}{top}
\foreach \wx in {647,1922}{\foreach \wy in {510,1515,2515,3520,4510,5515}{
 \node[wm] at (\wx,\wy) {树图\hspace{0.25em}{\wmserif shutu.cn}};}}
\end{pgfonlayer}
\end{tikzpicture}
\end{document}
